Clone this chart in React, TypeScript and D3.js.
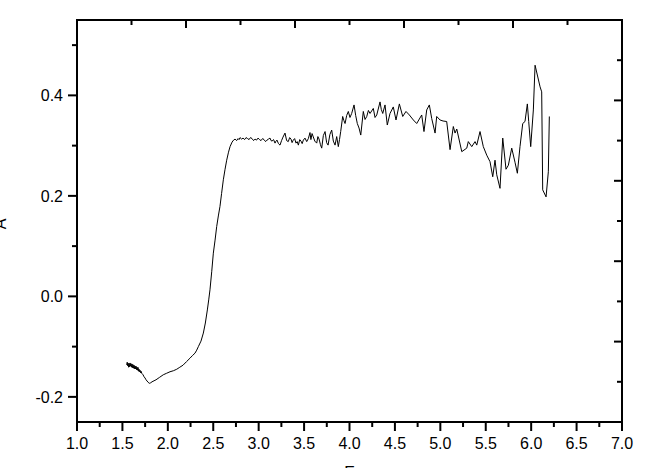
import React from "react";
import * as d3 from "d3";

// [energy, absorbance]
const spectrum: [number, number][] = [
  [1.547, -0.1365], [1.553, -0.131], [1.558, -0.138], [1.563, -0.133], [1.568, -0.141],
  [1.573, -0.1335], [1.579, -0.140], [1.584, -0.1325], [1.590, -0.139], [1.595, -0.134],
  [1.601, -0.141], [1.606, -0.1345], [1.612, -0.142], [1.617, -0.136], [1.623, -0.143],
  [1.628, -0.137], [1.634, -0.144], [1.639, -0.1385], [1.645, -0.1445], [1.650, -0.139],
  [1.656, -0.146], [1.661, -0.141], [1.667, -0.147], [1.672, -0.1415], [1.678, -0.149],
  [1.683, -0.145], [1.689, -0.150], [1.694, -0.147], [1.700, -0.152], [1.705, -0.149],
  [1.716, -0.154], [1.727, -0.156], [1.738, -0.160], [1.749, -0.1624], [1.760, -0.166],
  [1.771, -0.1684], [1.783, -0.171], [1.796, -0.173], [1.811, -0.172], [1.826, -0.170],
  [1.848, -0.168], [1.870, -0.166], [1.910, -0.161], [1.950, -0.156], [1.987, -0.153],
  [2.024, -0.150], [2.061, -0.148], [2.098, -0.145], [2.132, -0.141], [2.167, -0.137],
  [2.205, -0.130], [2.244, -0.123], [2.270, -0.118], [2.299, -0.113], [2.318, -0.107],
  [2.336, -0.100], [2.365, -0.089], [2.391, -0.073], [2.413, -0.053], [2.435, -0.027],
  [2.450, -0.007], [2.464, 0.013], [2.483, 0.049], [2.501, 0.086], [2.520, 0.112],
  [2.538, 0.139], [2.556, 0.160], [2.574, 0.179], [2.592, 0.205], [2.611, 0.232],
  [2.630, 0.253], [2.648, 0.271], [2.668, 0.287], [2.685, 0.298], [2.707, 0.307],
  [2.724, 0.311], [2.740, 0.313], [2.757, 0.310], [2.773, 0.314], [2.784, 0.312],
  [2.795, 0.316], [2.812, 0.313], [2.828, 0.315], [2.845, 0.312], [2.861, 0.316],
  [2.878, 0.314], [2.894, 0.312], [2.910, 0.316], [2.927, 0.314], [2.944, 0.310],
  [2.960, 0.313], [2.977, 0.311], [2.993, 0.315], [3.010, 0.312], [3.026, 0.310],
  [3.043, 0.314], [3.059, 0.312], [3.076, 0.308], [3.092, 0.311], [3.108, 0.313],
  [3.125, 0.315], [3.136, 0.310], [3.147, 0.309], [3.164, 0.312], [3.180, 0.305],
  [3.191, 0.309], [3.202, 0.311], [3.218, 0.304], [3.235, 0.301], [3.252, 0.310],
  [3.268, 0.317], [3.290, 0.325], [3.308, 0.310], [3.326, 0.308], [3.341, 0.316],
  [3.356, 0.313], [3.368, 0.306], [3.381, 0.311], [3.396, 0.314], [3.411, 0.305],
  [3.424, 0.308], [3.437, 0.301], [3.452, 0.312], [3.466, 0.309], [3.479, 0.304],
  [3.492, 0.311], [3.510, 0.315], [3.529, 0.308], [3.547, 0.314], [3.565, 0.326],
  [3.575, 0.312], [3.588, 0.324], [3.598, 0.319], [3.618, 0.309], [3.639, 0.305],
  [3.652, 0.318], [3.665, 0.313], [3.680, 0.302], [3.694, 0.295], [3.712, 0.320],
  [3.731, 0.328], [3.748, 0.306], [3.764, 0.301], [3.784, 0.322], [3.804, 0.331],
  [3.822, 0.309], [3.841, 0.301], [3.859, 0.318], [3.877, 0.298], [3.890, 0.312],
  [3.903, 0.328], [3.925, 0.358], [3.938, 0.350], [3.951, 0.344], [3.969, 0.360],
  [3.987, 0.368], [4.005, 0.356], [4.024, 0.364], [4.050, 0.381], [4.068, 0.360],
  [4.086, 0.344], [4.105, 0.335], [4.124, 0.321], [4.152, 0.368], [4.171, 0.352],
  [4.190, 0.358], [4.208, 0.370], [4.226, 0.364], [4.262, 0.374], [4.281, 0.356],
  [4.300, 0.361], [4.336, 0.387], [4.350, 0.372], [4.366, 0.364], [4.391, 0.381],
  [4.416, 0.341], [4.446, 0.364], [4.482, 0.377], [4.512, 0.351], [4.549, 0.383],
  [4.586, 0.358], [4.622, 0.368], [4.659, 0.361], [4.703, 0.351], [4.740, 0.344],
  [4.795, 0.361], [4.820, 0.328], [4.850, 0.371], [4.879, 0.381], [4.905, 0.354],
  [4.942, 0.325], [4.960, 0.358], [4.997, 0.351], [5.030, 0.349], [5.070, 0.348],
  [5.107, 0.292], [5.143, 0.338], [5.162, 0.325], [5.181, 0.333], [5.236, 0.288],
  [5.291, 0.295], [5.308, 0.308], [5.346, 0.298], [5.382, 0.308], [5.401, 0.301],
  [5.437, 0.328], [5.473, 0.298], [5.511, 0.281], [5.547, 0.268], [5.577, 0.238],
  [5.602, 0.271], [5.621, 0.242], [5.657, 0.215], [5.687, 0.315], [5.723, 0.253],
  [5.749, 0.261], [5.786, 0.295], [5.822, 0.267], [5.848, 0.245], [5.877, 0.298],
  [5.907, 0.344], [5.932, 0.348], [5.958, 0.383], [5.973, 0.348], [5.995, 0.298],
  [6.024, 0.371], [6.043, 0.460], [6.098, 0.417], [6.116, 0.407], [6.127, 0.212],
  [6.164, 0.198], [6.189, 0.248], [6.200, 0.358],
];

const xTickValues = [1.0, 1.5, 2.0, 2.5, 3.0, 3.5, 4.0, 4.5, 5.0, 5.5, 6.0, 6.5, 7.0];
const xMinorValues = [1.25, 1.75, 2.25, 2.75, 3.25, 3.75, 4.25, 4.75, 5.25, 5.75, 6.25, 6.75];
const yTickValues = [-0.2, 0.0, 0.2, 0.4];
const yMinorValues = [-0.1, 0.1, 0.3, 0.5];
const secondaryTicks = [1, 2, 3, 4, 5, 6, 7, 8, 9];

const xTitle = "E";
const yTitle = "A";

const W = 651;
const H = 468;
const M = { left: 77, right: 622, top: 20, bottom: 422 };
const FONT = "'Liberation Sans', Arial, sans-serif";

const fmt = (v: number) => {
  const s = Math.abs(v).toFixed(1);
  return v < -1e-9 ? "-" + s : s;
};

export default function App() {
  const x = d3.scaleLinear().domain([1, 7]).range([M.left, M.right]);
  const y = d3.scaleLinear().domain([-0.25, 0.55]).range([M.bottom, M.top]);
  const xTop = d3.scaleLinear().domain([0, 10]).range([M.left, M.right]);
  const yRight = d3.scaleLinear().domain([0, 10]).range([M.bottom, M.top]);

  const line = d3
    .line<[number, number]>()
    .x((d) => x(d[0]))
    .y((d) => y(d[1]));

  const sw = 2;

  return (
    <svg
      width={W}
      height={H}
      style={{ position: "absolute", left: 0, top: 0, background: "#fff" }}
    >
      <rect x={0} y={0} width={W} height={H} fill="#fff" />
      <path d={line(spectrum) || ""} fill="none" stroke="#000" strokeWidth={1} />

      {/* frame */}
      <rect
        x={M.left}
        y={M.top}
        width={M.right - M.left}
        height={M.bottom - M.top}
        fill="none"
        stroke="#000"
        strokeWidth={sw}
      />

      {/* bottom axis */}
      {xTickValues.map((v) => (
        <g key={"xt" + v}>
          <line x1={x(v)} x2={x(v)} y1={M.bottom} y2={M.bottom + 9} stroke="#000" strokeWidth={sw} />
          <text x={x(v)} y={449} textAnchor="middle" fontFamily={FONT} fontSize={16} fill="#000">
            {fmt(v)}
          </text>
        </g>
      ))}
      {xMinorValues.map((v) => (
        <line key={"xm" + v} x1={x(v)} x2={x(v)} y1={M.bottom} y2={M.bottom + 5} stroke="#000" strokeWidth={sw} />
      ))}

      {/* left axis */}
      {yTickValues.map((v) => (
        <g key={"yt" + v}>
          <line x1={M.left - 9} x2={M.left} y1={y(v)} y2={y(v)} stroke="#000" strokeWidth={sw} />
          <text x={63} y={y(v)} dy="0.36em" textAnchor="end" fontFamily={FONT} fontSize={16} fill="#000">
            {fmt(v)}
          </text>
        </g>
      ))}
      {yMinorValues.map((v) => (
        <line key={"ym" + v} x1={M.left - 5} x2={M.left} y1={y(v)} y2={y(v)} stroke="#000" strokeWidth={sw} />
      ))}

      {/* top secondary axis (inward ticks) */}
      {secondaryTicks.map((v) => (
        <line
          key={"tt" + v}
          x1={xTop(v)}
          x2={xTop(v)}
          y1={M.top}
          y2={M.top + (v % 2 === 0 ? 8 : 5)}
          stroke="#000"
          strokeWidth={sw}
        />
      ))}

      {/* right secondary axis (inward ticks) */}
      {secondaryTicks.map((v) => (
        <line
          key={"rt" + v}
          x1={M.right - (v % 2 === 0 ? 8 : 5)}
          x2={M.right}
          y1={yRight(v)}
          y2={yRight(v)}
          stroke="#000"
          strokeWidth={sw}
        />
      ))}

      {/* titles (partly outside the picture, as in the reference) */}
      <text
        transform={`translate(6, 224) rotate(-90)`}
        textAnchor="middle"
        fontFamily={FONT}
        fontSize={16}
        fill="#000"
      >
        {yTitle}
      </text>
      <text x={349.5} y={478} textAnchor="middle" fontFamily={FONT} fontSize={16} fill="#000">
        {xTitle}
      </text>
    </svg>
  );
}
